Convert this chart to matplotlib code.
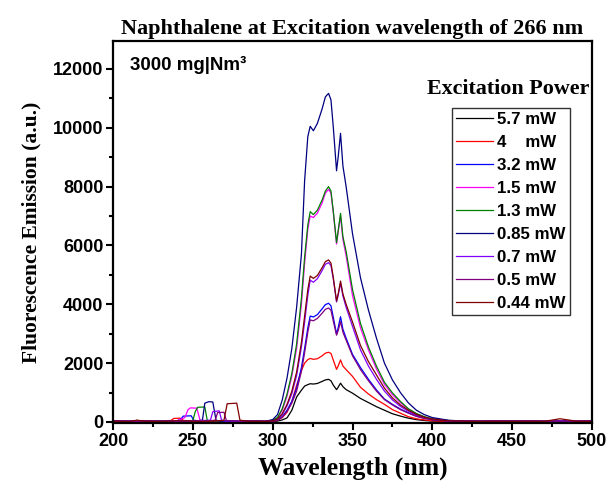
import numpy as np
import matplotlib
matplotlib.use("Agg")
import matplotlib.pyplot as plt
from matplotlib.ticker import MultipleLocator

# emission part, common wavelength grid (nm)
wl_em = [295, 300, 303, 306, 309, 312, 315, 318, 320, 322, 323.5, 325.5, 328, 331, 333,
         335, 336.5, 338, 340, 341, 342.5, 344, 346, 350, 355, 360, 365, 370, 375, 380,
         385, 390, 395, 400, 410, 420, 430, 440, 450, 460, 470, 480, 490, 500]

em_5p7 = [20, 10, 30, 70, 140, 400, 850, 1080, 1220, 1270, 1300, 1290, 1310, 1380, 1430,
          1450, 1400, 1250, 1100, 1180, 1320, 1200, 1100, 980, 800, 660, 520, 400, 280, 200,
          130, 80, 50, 30, 15, 20, 30, 20, 40, 20, 30, 20, 30, 20]
em_4 = [20, 20, 60, 150, 330, 700, 1250, 1750, 2000, 2120, 2160, 2130, 2150, 2250, 2340,
        2370, 2330, 2100, 1790, 1900, 2110, 1900, 1780, 1550, 1180, 950, 760, 600, 420, 300,
        180, 110, 70, 40, 20, 30, 20, 30, 20, 30, 20, 40, 20, 30]
em_3p2 = [20, 30, 70, 180, 400, 700, 1150, 1850, 2500, 3200, 3600, 3570, 3650, 3850, 3990,
          4035, 3950, 3550, 2990, 3200, 3580, 3150, 2850, 2300, 1850, 1450, 1090, 780, 600, 440,
          310, 200, 130, 80, 40, 30, 20, 30, 20, 30, 20, 30, 20, 30]
em_1p5 = [20, 50, 130, 400, 880, 1550, 2500, 4000, 5400, 6550, 7000, 6950, 7100, 7450, 7780,
          7910, 7780, 7100, 6050, 6450, 7000, 6200, 5650, 4300, 3200, 2450, 1800, 1280, 930, 660,
          430, 270, 170, 100, 45, 30, 20, 30, 20, 30, 20, 30, 20, 30]
em_1p3 = [20, 60, 150, 450, 950, 1650, 2650, 4200, 5600, 6700, 7150, 7050, 7200, 7550, 7850,
          8000, 7850, 7150, 6100, 6500, 7090, 6300, 5800, 4500, 3350, 2550, 1900, 1350, 990, 700,
          450, 290, 180, 110, 50, 30, 20, 30, 20, 30, 20, 30, 20, 30]
em_0p85 = [20, 80, 250, 750, 1500, 2500, 3900, 5700, 8200, 9700, 10050, 9900, 10150, 10650, 11050,
           11170, 10950, 10000, 8540, 9000, 9810, 8700, 8000, 6400, 4900, 3800, 2850, 2000, 1430, 1000,
           650, 400, 250, 150, 60, 30, 20, 30, 20, 30, 20, 30, 20, 30]
em_0p7 = [20, 35, 90, 250, 550, 960, 1580, 2550, 3400, 4300, 4820, 4750, 4870, 5150, 5360,
          5415, 5320, 4850, 4080, 4300, 4720, 4280, 3900, 3250, 2450, 1900, 1450, 1050, 750, 530,
          360, 230, 140, 90, 35, 30, 20, 30, 20, 30, 20, 30, 20, 30]
em_0p5 = [20, 25, 60, 160, 360, 640, 1050, 1720, 2350, 3050, 3470, 3440, 3520, 3700, 3830,
          3875, 3800, 3420, 2950, 3100, 3410, 3050, 2780, 2250, 1780, 1400, 1050, 760, 580, 420,
          300, 190, 120, 75, 35, 30, 20, 30, 20, 30, 20, 30, 20, 30]
em_0p44 = [20, 40, 100, 280, 600, 1050, 1700, 2700, 3600, 4500, 4960, 4880, 4980, 5250, 5450,
           5510, 5400, 4900, 4110, 4350, 4790, 4350, 4000, 3400, 2600, 2050, 1600, 1150, 820, 580,
           400, 260, 160, 100, 40, 30, 20, 30, 20, 30, 20, 110, 30, 20]

# scatter / baseline part below 295 nm, one grid per curve
lo_x_5p7 = [200, 205, 210, 214, 215, 216, 220, 230, 240, 250, 260, 270, 280, 290]
lo_5p7 = [20, 30, 15, 30, 60, 25, 20, 30, 40, 30, 40, 20, 30, 20]
lo_x_4 = [200, 210, 220, 230, 236, 238, 242, 244, 246, 255, 265, 275, 285, 290]
lo_4 = [30, 20, 40, 30, 40, 120, 130, 60, 30, 40, 20, 30, 20, 30]
lo_x_3p2 = [200, 210, 220, 230, 240, 242.5, 244, 249, 250.5, 255, 265, 275, 285, 290]
lo_3p2 = [20, 30, 20, 30, 40, 100, 200, 210, 60, 30, 40, 20, 30, 20]
lo_x_1p5 = [200, 210, 220, 230, 240, 245, 247, 248.5, 252.5, 254.5, 258, 270, 280, 290]
lo_1p5 = [30, 20, 30, 20, 40, 150, 420, 480, 470, 60, 30, 20, 30, 20]
lo_x_1p3 = [200, 210, 220, 230, 240, 250, 251.5, 253, 257.5, 259, 262, 270, 280, 290]
lo_1p3 = [20, 30, 20, 40, 30, 50, 350, 500, 510, 60, 30, 40, 20, 30]
lo_x_0p85 = [200, 210, 220, 230, 240, 250, 256, 257.5, 260, 262.5, 264.5, 267, 280, 290]
lo_0p85 = [30, 20, 30, 20, 40, 30, 60, 640, 690, 680, 60, 30, 20, 30]
lo_x_0p7 = [200, 210, 220, 230, 240, 250, 261, 262.5, 266.5, 268, 271, 278, 285, 290]
lo_0p7 = [20, 30, 20, 30, 20, 40, 60, 350, 380, 60, 30, 20, 30, 20]
lo_x_0p5 = [200, 210, 220, 230, 240, 250, 258, 264, 265.5, 269.5, 271, 278, 285, 290]
lo_0p5 = [30, 20, 30, 20, 40, 30, 30, 60, 320, 330, 50, 30, 20, 30]
lo_x_0p44 = [200, 210, 215, 220, 230, 240, 250, 260, 269.5, 271.5, 277.5, 279.5, 285, 290]
lo_0p44 = [30, 20, 60, 30, 20, 40, 30, 20, 60, 620, 640, 60, 30, 20]

labels = ["5.7 mW", "4    mW", "3.2 mW", "1.5 mW", "1.3 mW", "0.85 mW", "0.7 mW", "0.5 mW", "0.44 mW"]
colors = ["black", "red", "blue", "magenta", "green", "navy", "#8000FF", "purple", "#800000"]

series = [(lo_x_5p7, lo_5p7, em_5p7), (lo_x_4, lo_4, em_4), (lo_x_3p2, lo_3p2, em_3p2),
          (lo_x_1p5, lo_1p5, em_1p5), (lo_x_1p3, lo_1p3, em_1p3), (lo_x_0p85, lo_0p85, em_0p85),
          (lo_x_0p7, lo_0p7, em_0p7), (lo_x_0p5, lo_0p5, em_0p5), (lo_x_0p44, lo_0p44, em_0p44)]

serif = "Liberation Serif"
sans = "Liberation Sans"

fig = plt.figure(figsize=(6.06, 4.9), dpi=100)
ax = fig.add_axes([0.1865, 0.1367, 0.7904, 0.7796])

for (lx, ly, em), lab, c in zip(series, labels, colors):
    x = np.concatenate([lx, wl_em])
    y = np.concatenate([ly, em])
    ax.plot(x, y, color=c, lw=0.9, label=lab)

ax.set_xlim(200, 500)
ax.set_ylim(-35, 12950)
ax.xaxis.set_major_locator(MultipleLocator(50))
ax.xaxis.set_minor_locator(MultipleLocator(25))
ax.yaxis.set_major_locator(MultipleLocator(2000))
ax.yaxis.set_minor_locator(MultipleLocator(1000))
ax.tick_params(which="both", direction="out", top=False, right=False, width=1.5)
ax.tick_params(which="major", length=5, pad=2)
ax.tick_params(which="minor", length=3)
for s in ax.spines.values():
    s.set_linewidth(1.6)
for t in ax.get_xticklabels() + ax.get_yticklabels():
    t.set_fontfamily(sans)
    t.set_fontweight("bold")
    t.set_fontsize(13)

ax.set_xlabel("Wavelength (nm)", fontfamily=serif, fontweight="bold", fontsize=18.5, labelpad=5)
ax.set_ylabel("Fluorescence Emission (a.u.)", fontfamily=serif, fontweight="bold", fontsize=15.5, labelpad=8)
ax.set_title("Naphthalene at Excitation wavelength of 266 nm", fontfamily=serif,
             fontweight="bold", fontsize=16, pad=5)

ax.text(0.035, 0.962, "3000 mg|Nm\u00b3", transform=ax.transAxes, fontfamily=sans,
        fontweight="bold", fontsize=13.5, va="top", ha="left")
ax.text(0.656, 0.875, "Excitation Power", transform=ax.transAxes, fontfamily=serif,
        fontweight="bold", fontsize=15.8, va="center", ha="left")

leg = ax.legend(loc="upper left", bbox_to_anchor=(0.707, 0.8246), frameon=True, fancybox=False,
                prop={"family": sans, "weight": "bold", "size": 12.2}, handlelength=2.2,
                handletextpad=0.25, labelspacing=0.47, borderpad=0.25, borderaxespad=0)
leg.get_frame().set_edgecolor("black")
leg.get_frame().set_linewidth(1.0)

plt.savefig("out.png", dpi=100)
